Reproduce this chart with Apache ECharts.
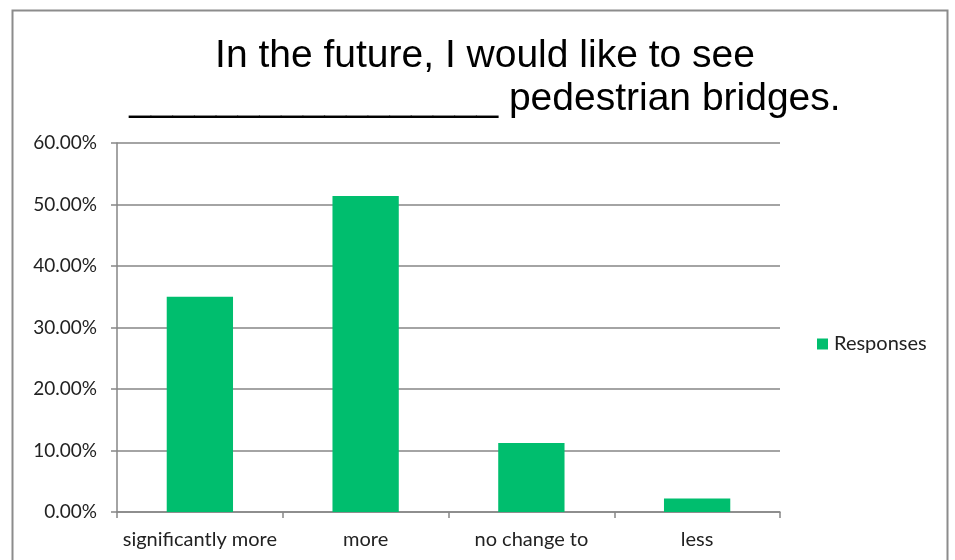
<!DOCTYPE html>
<html><head><meta charset="utf-8">
<script src="https://cdn.jsdelivr.net/npm/echarts@6/dist/echarts.min.js"></script>
<style>html,body{margin:0;padding:0;background:#fff}#c{width:955px;height:560px}</style>
</head><body><div id="c"></div>
<script>
var categories = ['significantly more', 'more', 'no change to', 'less'];
var responses = [35.0, 51.4, 11.2, 2.2];
var seriesName = 'Responses';
var titleLines = ['In the future, I would like to see', '_________________ pedestrian bridges.'];

var chart = echarts.init(document.getElementById('c'), null, {renderer: 'canvas'});
chart.setOption({
  animation: false,
  backgroundColor: '#fff',
  graphic: [{
    type: 'rect', shape: {x: 12.5, y: 10.5, width: 935, height: 560},
    style: {fill: 'none', stroke: '#8c8c8c', lineWidth: 2}
  }],
  title: {
    text: titleLines.join('\n'),
    left: 480, top: 30, textAlign: 'center',
    textStyle: {fontFamily: 'Liberation Sans', fontSize: 39, fontWeight: 'normal', color: '#000', lineHeight: 43}
  },
  legend: {
    data: [seriesName], orient: 'vertical', left: 812, top: 329,
    itemWidth: 11, itemHeight: 11, icon: 'rect', itemGap: 6,
    textStyle: {fontFamily: 'Lato, Open Sans', fontSize: 20, color: '#222', padding: [0, 0, 0, 1]}
  },
  grid: {left: 117, top: 143, width: 663, height: 369, containLabel: false},
  xAxis: {
    type: 'category', data: categories,
    axisLine: {lineStyle: {color: '#868686', width: 1.5}},
    axisTick: {show: true, interval: 0, length: 6, lineStyle: {color: '#868686', width: 1.5}},
    axisLabel: {interval: 0, fontFamily: 'Lato, Open Sans', fontSize: 20, color: '#222', margin: 18}
  },
  yAxis: {
    type: 'value', min: 0, max: 60, interval: 10,
    axisLine: {show: true, lineStyle: {color: '#868686', width: 1.5}},
    axisTick: {show: true, length: 6, lineStyle: {color: '#868686', width: 1.5}},
    splitLine: {lineStyle: {color: '#868686', width: 1.5}},
    axisLabel: {fontFamily: 'Lato, Open Sans', fontSize: 19, color: '#222', margin: 20,
      formatter: function (v) { return v.toFixed(2) + '%'; }}
  },
  series: [{
    name: seriesName, type: 'bar', data: responses,
    barCategoryGap: '60%',
    itemStyle: {color: '#00BE6E'}
  }]
});
</script></body></html>
